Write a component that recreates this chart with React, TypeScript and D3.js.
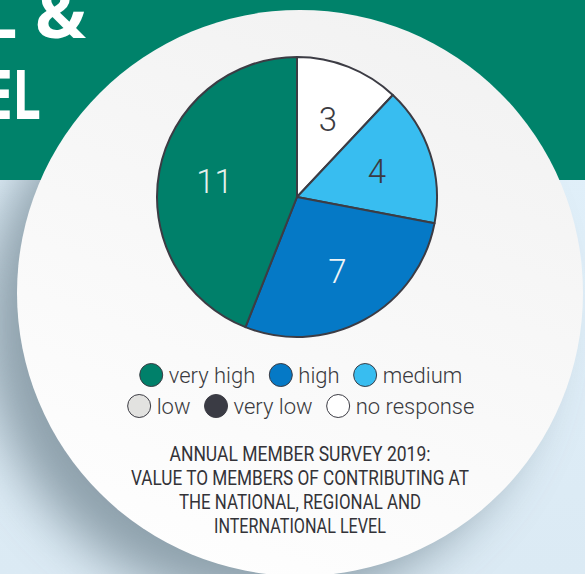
import { useEffect, useRef } from "react";
import * as d3 from "d3";

const categories = ["no response", "medium", "high", "very high"];
const values = [3, 4, 7, 11];
const sliceColors = ["#ffffff", "#38bdf0", "#0579c6", "#00806a"];
const labelColors = ["#3b3b42", "#3b3b42", "#eef4f6", "#e6f0ec"];

const legendRows = [
  ["very high", "high", "medium"],
  ["low", "very low", "no response"],
];
const legendColors: Record<string, string> = {
  "very high": "#00806a",
  high: "#0579c6",
  medium: "#38bdf0",
  low: "#e2e2e0",
  "very low": "#3a3b44",
  "no response": "#ffffff",
};

const titleLines = [
  "ANNUAL MEMBER SURVEY 2019:",
  "VALUE TO MEMBERS OF CONTRIBUTING AT",
  "THE NATIONAL, REGIONAL AND",
  "INTERNATIONAL LEVEL",
];
const titleWidths = [261, 338, 242, 172];

const headline = ["L &", "EL"];

export default function App() {
  const ref = useRef<SVGSVGElement>(null);

  useEffect(() => {
    if (!ref.current) return;
    const svg = d3.select(ref.current);
    svg.selectAll("*").remove();

    const W = 585;
    const H = 574;
    const defs = svg.append("defs");

    const bg = defs.append("linearGradient").attr("id", "bg").attr("x1", 0).attr("y1", 0).attr("x2", 0).attr("y2", 1);
    bg.append("stop").attr("offset", "0%").attr("stop-color", "#e2f1fb");
    bg.append("stop").attr("offset", "100%").attr("stop-color", "#dbeaf4");

    const disc = defs.append("linearGradient").attr("id", "disc").attr("x1", 0.7).attr("y1", 0).attr("x2", 0.3).attr("y2", 1);
    disc.append("stop").attr("offset", "0%").attr("stop-color", "#f2f2f2");
    disc.append("stop").attr("offset", "100%").attr("stop-color", "#fefefe");

    const blur = defs.append("filter").attr("id", "blur").attr("x", "-50%").attr("y", "-50%").attr("width", "200%").attr("height", "200%");
    blur.append("feGaussianBlur").attr("stdDeviation", 26);

    // background
    svg.append("rect").attr("width", W).attr("height", H).attr("fill", "url(#bg)");

    const cx = 300, cy = 293, R = 283;
    svg.append("circle")
      .attr("cx", cx - 38).attr("cy", cy + 32).attr("r", R - 4)
      .attr("fill", "#7a8e9a").attr("opacity", 0.8)
      .attr("filter", "url(#blur)");

    // green band
    svg.append("rect").attr("width", W).attr("height", 180).attr("fill", "#00826a");

    // cut-off headline (only the right end is visible)
    headline.forEach((t, i) => {
      svg.append("text")
        .attr("transform", i === 0 ? "translate(86,38)" : "translate(41,119) scale(0.74,1)")
        .attr("text-anchor", "end")
        .attr("fill", "#ffffff")
        .attr("font-family", "'Open Sans', sans-serif")
        .attr("font-weight", 700)
        .attr("font-size", 68)
        .text(t);
    });

    svg.append("circle").attr("cx", cx).attr("cy", cy).attr("r", R).attr("fill", "url(#disc)");

    // pie
    const pcx = 297, pcy = 197, pr = 140;
    const pie = d3.pie<number>().sort(null).value((d) => d);
    const arcs = pie(values);
    const arc = d3.arc<d3.PieArcDatum<number>>().innerRadius(0).outerRadius(pr);
    const labelArc = d3.arc<d3.PieArcDatum<number>>().innerRadius(84).outerRadius(84);

    const g = svg.append("g").attr("transform", `translate(${pcx},${pcy})`);
    g.selectAll("path")
      .data(arcs)
      .join("path")
      .attr("d", (d) => arc(d) || "")
      .attr("fill", (_d, i) => sliceColors[i])
      .attr("stroke", "#3c3c44")
      .attr("stroke-width", 2)
      .attr("stroke-linejoin", "round");

    g.selectAll("text")
      .data(arcs)
      .join("text")
      .attr("transform", (d) => `translate(${labelArc.centroid(d)})`)
      .attr("text-anchor", "middle")
      .attr("dy", "0.36em")
      .attr("fill", (_d, i) => labelColors[i])
      .attr("font-family", "Roboto, sans-serif")
      .attr("font-weight", 300)
      .attr("font-size", 33)
      .text((d) => String(d.data));

    // legend
    const legendY = [375, 406];
    const sw = 11.5;
    legendRows.forEach((row, ri) => {
      const lg = svg.append("g");
      let x = 0;
      row.forEach((name, k) => {
        lg.append("circle")
          .attr("cx", x + sw).attr("cy", legendY[ri]).attr("r", sw)
          .attr("fill", legendColors[name])
          .attr("stroke", "#3c3c44").attr("stroke-width", 1);
        const t = lg.append("text")
          .attr("x", x + 2 * sw + 6)
          .attr("y", legendY[ri] + 7.5)
          .attr("fill", "#3a3a3e")
          .attr("font-family", "Roboto, sans-serif")
          .attr("font-weight", 300)
          .attr("font-size", 22)
          .text(name);
        const w = (t.node() as SVGTextElement).getComputedTextLength();
        x += 2 * sw + 6 + w + (k < row.length - 1 ? 14 : 0);
      });
      lg.attr("transform", `translate(${301 - x / 2},0)`);
    });

    // caption
    titleLines.forEach((line, i) => {
      svg.append("text")
        .attr("x", 300)
        .attr("y", 461 + i * 24)
        .attr("text-anchor", "middle")
        .attr("fill", "#333338")
        .attr("font-family", "'Roboto', sans-serif")
        .attr("font-size", 21)
        .attr("textLength", titleWidths[i])
        .attr("lengthAdjust", "spacingAndGlyphs")
        .text(line);
    });
  }, []);

  return (
    <div style={{ position: "fixed", left: 0, top: 0, width: 585, height: 574, overflow: "hidden" }}>
      <svg ref={ref} width={585} height={574} style={{ display: "block" }} />
    </div>
  );
}
